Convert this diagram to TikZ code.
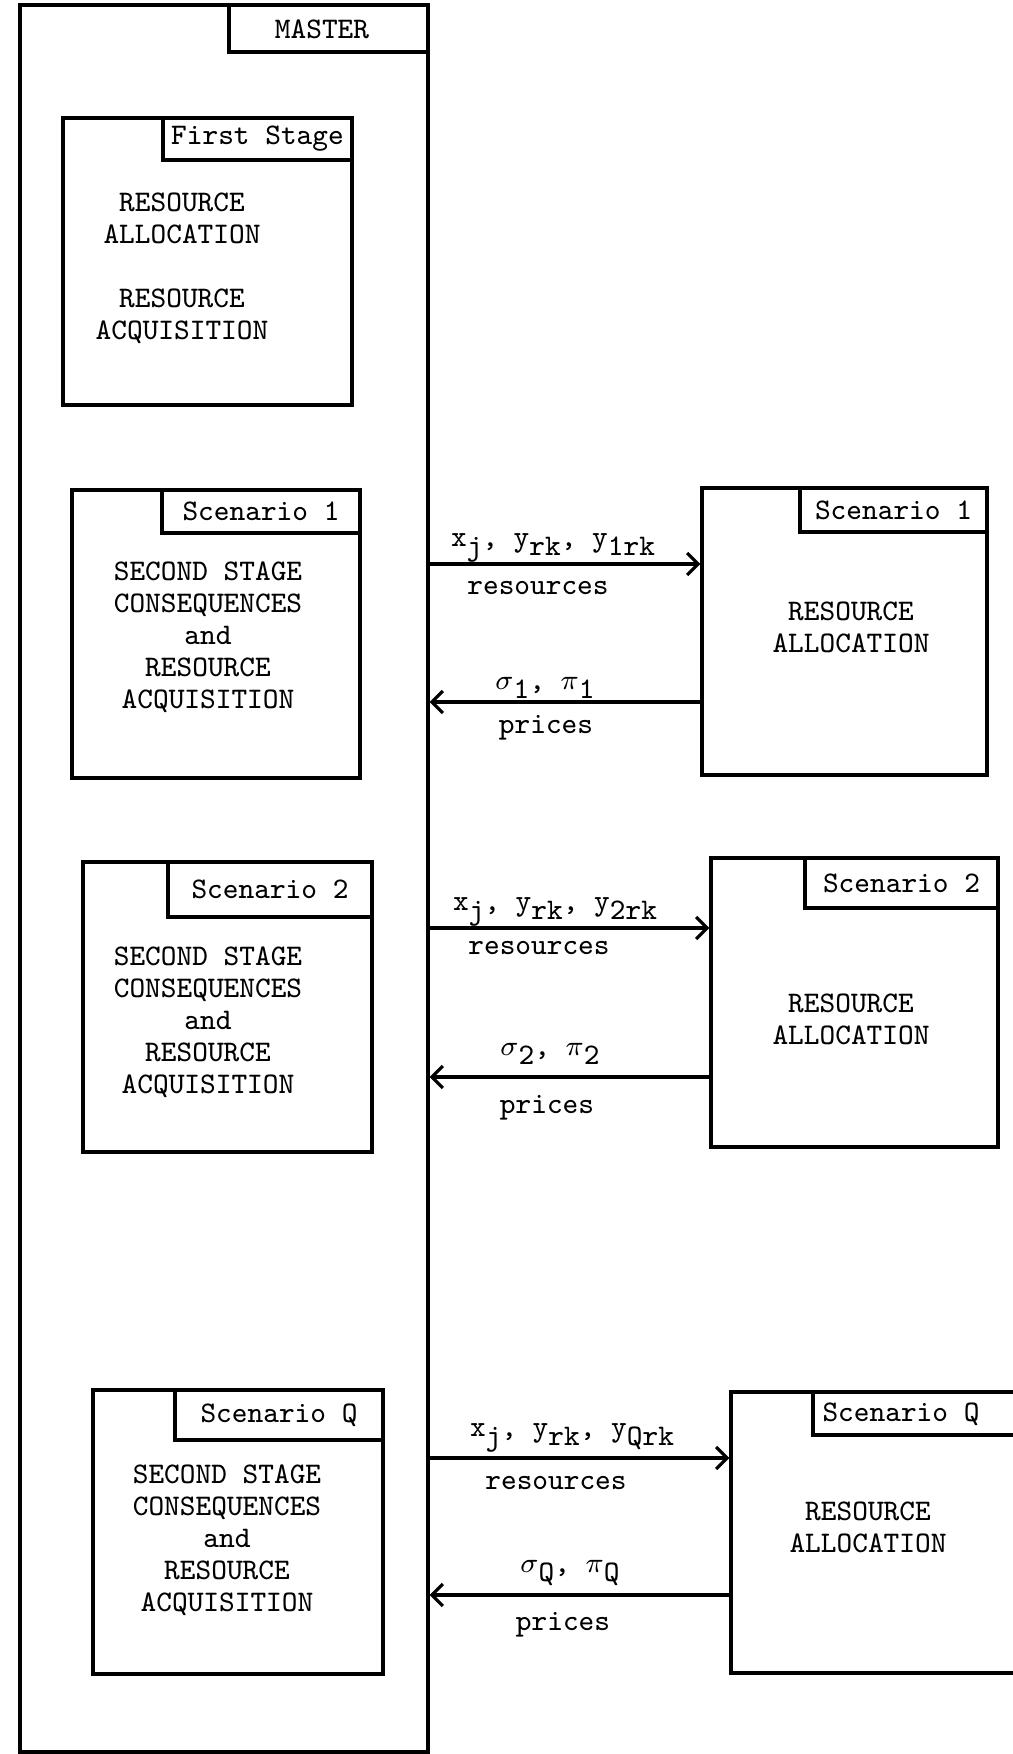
\documentclass[tikz,border=0pt]{standalone}
\usepackage{amsmath}
\usepackage{tikz}
\usetikzlibrary{arrows.meta,fit}

\newcommand{\lo}[1]{\raisebox{-2.8pt}{#1}}

\begin{document}
\begin{tikzpicture}[x=0.01cm, y=-0.01cm, line width=0.9pt,
	font=\ttfamily\fontsize{8.5}{9.1}\selectfont,
	>={Straight Barb[length=1.1mm, width=2.2mm]},
	box/.style={draw, rectangle, inner sep=0pt},
	body/.style={align=center, inner sep=0pt},
	lbl/.style={inner sep=0pt}]
	%\draw[help lines] (0,0) grid[step=100] (1013,1754);
	\useasboundingbox (0,0) rectangle (1013,1754);
	% master problem
	\node[box, fit={(20,5) (428,1752)}] (master) {};
	\node[box, fit={(229,5) (428,52)}] (mastertab) {};
	\node[lbl] (mastername) at (322,29) {MASTER};
	\node[box, fit={(63,118) (352,405)}] (first) {};
	\node[box, fit={(163,118) (352,160)}] (firsttab) {};
	\node[lbl] (firstname) at (firsttab) {First Stage};
	\node[body] (firsttxt) at (182,268) {RESOURCE\\ALLOCATION\\[9.1pt]RESOURCE\\ACQUISITION};
	\node[box, fit={(72,490) (360,778)}] (secA) {};
	\node[box, fit={(162,490) (360,533)}] (secAtab) {};
	\node[lbl] (secAname) at (secAtab) {Scenario 1};
	\node[body] (secAtxt) at (208,637) {SECOND STAGE\\CONSEQUENCES\\and\\RESOURCE\\ACQUISITION};
	\node[box, fit={(83,862) (372,1152)}] (secB) {};
	\node[box, fit={(168,862) (372,917)}] (secBtab) {};
	\node[lbl] (secBname) at (secBtab) {Scenario 2};
	\node[body] (secBtxt) at (208,1022) {SECOND STAGE\\CONSEQUENCES\\and\\RESOURCE\\ACQUISITION};
	\node[box, fit={(93,1390) (383,1674)}] (secQ) {};
	\node[box, fit={(175,1390) (383,1440)}] (secQtab) {};
	\node[lbl] (secQname) at (secQtab) {Scenario Q};
	\node[body] (secQtxt) at (227,1540) {SECOND STAGE\\CONSEQUENCES\\and\\RESOURCE\\ACQUISITION};
	% subproblems
	\node[box, fit={(702,488) (987,775)}] (allocA) {};
	\node[box, fit={(800,488) (987,532)}] (allocAtab) {};
	\node[lbl] (allocAname) at (allocAtab) {Scenario 1};
	\node[body] (allocAtxt) at (851,627) {RESOURCE\\ALLOCATION};
	\node[box, fit={(711,858) (998,1147)}] (allocB) {};
	\node[box, fit={(805,858) (998,908)}] (allocBtab) {};
	\node[lbl] (allocBname) at (allocBtab) {Scenario 2};
	\node[body] (allocBtxt) at (851,1019) {RESOURCE\\ALLOCATION};
	\node[box, fit={(731,1392) (1022,1673)}] (allocQ) {};
	\node[box, fit={(813,1392) (1022,1435)}] (allocQtab) {};
	\node[lbl] (allocQname) at (901,1414) {Scenario Q};
	\node[body] (allocQtxt) at (868,1527) {RESOURCE\\ALLOCATION};
	% resources and prices
	\coordinate (resA) at (0,564);
	\coordinate (priA) at (0,702);
	\coordinate (resB) at (0,928);
	\coordinate (priB) at (0,1077);
	\coordinate (resQ) at (0,1458);
	\coordinate (priQ) at (0,1595);
	\draw[->] (master.east |- resA) -- (allocA.west |- resA);
	\draw[->] (allocA.west |- priA) -- (master.east |- priA);
	\draw[->] (master.east |- resB) -- (allocB.west |- resB);
	\draw[->] (allocB.west |- priB) -- (master.east |- priB);
	\draw[->] (master.east |- resQ) -- (allocQ.west |- resQ);
	\draw[->] (allocQ.west |- priQ) -- (master.east |- priQ);
	\node[lbl] (qtyA) at (553,548) {x\lo{j}, y\lo{rk}, y\lo{1rk}};
	\node[lbl] (reslblA) at (538,588) {resources};
	\node[lbl] (dualA) at (545,688) {$\sigma$\lo{1}, $\pi$\lo{1}};
	\node[lbl] (prilblA) at (546,728) {prices};
	\node[lbl] (qtyB) at (555,912) {x\lo{j}, y\lo{rk}, y\lo{2rk}};
	\node[lbl] (reslblB) at (539,948) {resources};
	\node[lbl] (dualB) at (550,1054) {$\sigma$\lo{2}, $\pi$\lo{2}};
	\node[lbl] (prilblB) at (547,1108) {prices};
	\node[lbl] (qtyQ) at (572,1438) {x\lo{j}, y\lo{rk}, y\lo{Qrk}};
	\node[lbl] (reslblQ) at (556,1483) {resources};
	\node[lbl] (dualQ) at (570,1573) {$\sigma$\lo{Q}, $\pi$\lo{Q}};
	\node[lbl] (prilblQ) at (563,1625) {prices};
\end{tikzpicture}
\end{document}
